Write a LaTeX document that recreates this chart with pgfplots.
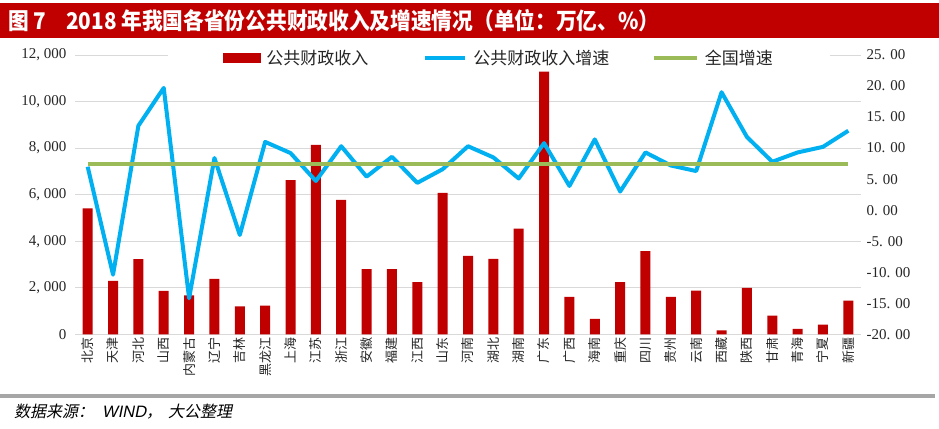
\documentclass[border=0pt]{standalone}
\usepackage{pgfplots}
\pgfplotsset{compat=1.18}
\usepackage{pgfplotstable}
\usepackage{fontspec}
\setmainfont{Liberation Serif}
\newfontfamily\cjk{Noto Sans CJK SC}
\newfontfamily\cjkt[FakeStretch=0.9]{Noto Sans CJK SC}
\newfontfamily\cjkit[FakeSlant=0.2]{Noto Sans CJK SC}
\newfontfamily\latit[FakeSlant=0.2]{Liberation Sans}
\definecolor{barred}{HTML}{C00000}
\definecolor{lineblue}{HTML}{00B0F0}
\definecolor{natgreen}{HTML}{9BBB59}
\definecolor{gridgray}{HTML}{D9D9D9}
\definecolor{sepgray}{HTML}{A6A6A6}
\definecolor{ticktext}{HTML}{262626}

\pgfplotstableread{
x rev g nat
0 5406 7.0 7.4
1 2293 -10.4 7.4
2 3226 13.6 7.4
3 1863 19.7 7.4
4 1677 -14.2 7.4
5 2380 8.4 7.4
6 1204 -4.0 7.4
7 1233 11.0 7.4
8 6624 9.2 7.4
9 8143 4.7 7.4
10 5778 10.3 7.4
11 2796 5.4 7.4
12 2796 8.6 7.4
13 2237 4.4 7.4
14 6079 6.6 7.4
15 3369 10.3 7.4
16 3240 8.5 7.4
17 4545 5.1 7.4
18 11283 10.8 7.4
19 1606 3.9 7.4
20 659 11.4 7.4
21 2237 3.0 7.4
22 3570 9.3 7.4
23 1606 7.2 7.4
24 1878 6.3 7.4
25 172 19.0 7.4
26 1993 11.8 7.4
27 803 7.8 7.4
28 229 9.3 7.4
29 416 10.2 7.4
30 1448 12.8 7.4
}\datatable

\begin{document}
\begin{tikzpicture}
\useasboundingbox (0bp,0bp) rectangle (939bp,429bp);
\fill[white] (0bp,0bp) rectangle (939bp,429bp);
\fill[barred] (0bp,391bp) rectangle (939bp,426bp);
\node[anchor=west, text=white, inner sep=0pt, font=\cjkt\bfseries\fontsize{23bp}{23bp}\selectfont] at (8bp,408.5bp) {图 7\hspace{20bp}2018 年我国各省份公共财政收入及增速情况（单位：万亿、\%）};
\fill[sepgray] (0bp,31bp) rectangle (935bp,35bp);
\node[anchor=west, inner sep=0pt, font=\cjkit\fontsize{16bp}{16bp}\selectfont] at (14bp,17bp) {数据来源：\hspace{8bp}{\latit\fontsize{16.5bp}{16bp}\selectfont WIND}，\hspace{6bp}大公整理};

\begin{axis}[
  at={(75bp,94.7bp)}, anchor=south west,
  scale only axis, width=786bp, height=279.3bp,
  xmin=-0.5, xmax=30.5, ymin=0, ymax=12000,
  scaled y ticks=false,
  axis line style={draw=none},
  major tick length=0pt,
  ymajorgrids, grid style={gridgray, line width=0.8bp},
  ytick={0,2000,4000,6000,8000,10000,12000},
  yticklabels={0,{2, 000},{4, 000},{6, 000},{8, 000},{10, 000},{12, 000}},
  yticklabel style={font=\fontsize{15bp}{15bp}\selectfont, text=ticktext, xshift=-5bp},
  xtick={0,...,30},
  xticklabels={北京,天津,河北,山西,内蒙古,辽宁,吉林,黑龙江,上海,江苏,浙江,安徽,福建,江西,山东,河南,湖北,湖南,广东,广西,海南,重庆,四川,贵州,云南,西藏,陕西,甘肃,青海,宁夏,新疆},
  xticklabel style={rotate=90, anchor=east, font=\cjk\fontsize{13bp}{13bp}\selectfont, text=ticktext},
  ybar, bar width=10bp,
]
\addplot[fill=barred, draw=none] table[x=x, y=rev] {\datatable};
\end{axis}

\begin{axis}[
  at={(75bp,94.7bp)}, anchor=south west,
  scale only axis, width=786bp, height=279.3bp,
  xmin=-0.5, xmax=30.5, ymin=-20, ymax=25,
  axis line style={draw=none},
  major tick length=0pt,
  xtick=\empty,
  yticklabel pos=right,
  ytick={-20,-15,-10,-5,0,5,10,15,20,25},
  yticklabels={-20. 00,-15. 00,-10. 00,-5. 00,0. 00,5. 00,10. 00,15. 00,20. 00,25. 00},
  yticklabel style={font=\fontsize{15bp}{15bp}\selectfont, text=ticktext, anchor=west, xshift=2bp},
  legend columns=3,
  legend style={at={(0.118,0.99)}, anchor=west, draw=none, fill=white,
    inner xsep=55bp, inner ysep=2bp,
    font=\cjk\fontsize{17bp}{17bp}\selectfont, text=ticktext,
    /tikz/every odd column/.append style={column sep=4bp},
    /tikz/column 1/.style={column sep=4bp},
    /tikz/column 2/.style={column sep=53bp},
    /tikz/column 4/.style={column sep=40bp},
    /tikz/column 6/.style={column sep=0bp}},
]
\addlegendimage{legend image code/.code={\fill[barred] (0bp,-4.5bp) rectangle (37bp,4.5bp);}}
\addlegendentry{公共财政收入}
\addplot[lineblue, line width=4bp, line join=round, mark=none,
  legend image code/.code={\draw[lineblue, line width=4bp] (0bp,0bp) -- (40bp,0bp);}]
  table[x=x, y=g] {\datatable};
\addlegendentry{公共财政收入增速}
\addplot[natgreen, line width=4.5bp, mark=none,
  legend image code/.code={\draw[natgreen, line width=4.5bp] (0bp,0bp) -- (43bp,0bp);}]
  table[x=x, y=nat] {\datatable};
\addlegendentry{全国增速}
\end{axis}
\end{tikzpicture}
\end{document}
